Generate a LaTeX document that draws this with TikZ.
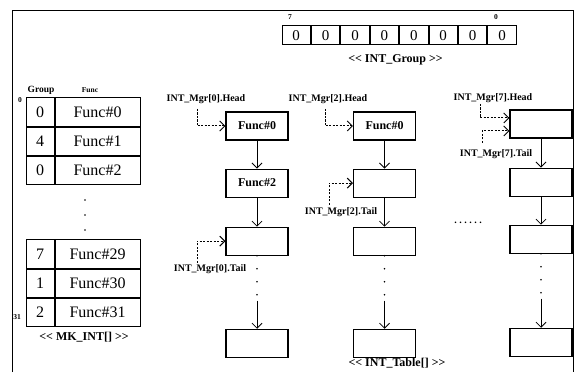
\documentclass[tikz,border=0pt]{standalone}
\usepackage{fontspec}
\setmainfont{Liberation Serif}
\usepackage{tikz}
\usetikzlibrary{arrows.meta, positioning, calc}
\newcommand{\lgl}{<\kern0pt<}
\newcommand{\rgl}{>\kern0pt>}
\tikzset{
  cell/.style={
    rectangle, draw, line width=1pt, inner sep=0pt,
    minimum height=28.3pt, font=\fontsize{16}{18}\selectfont,
  },
  gcell/.style={cell, minimum width=28pt},
  fcell/.style={cell, minimum width=85pt},
  bitcell/.style={
    rectangle, draw, line width=1pt, inner sep=0pt,
    minimum width=28.4pt, minimum height=19pt,
    font=\fontsize{15}{17}\selectfont,
  },
  entry/.style={
    rectangle, draw, line width=1.1pt, inner sep=0pt,
    minimum width=62pt, minimum height=28pt,
    font=\fontsize{12}{14}\selectfont\bfseries,
  },
  tag/.style={inner sep=0pt, font=\fontsize{10}{12}\selectfont\bfseries},
  caption/.style={inner sep=0pt, font=\fontsize{12}{14}\selectfont\bfseries},
  idx/.style={inner sep=0pt, font=\fontsize{7.5}{9}\selectfont\bfseries},
  arrow/.style={-{Straight Barb[length=5pt, width=10pt]}, line width=0.8pt},
  ptr/.style={-{Straight Barb[length=5pt, width=10pt]}, line width=1pt, dash pattern=on 2.2pt off 1.3pt},
  dotline/.style={line width=1.8pt, line cap=round, dash pattern=on 0pt off 13pt},
}
\begin{document}
\begin{tikzpicture}[x=1pt, y=1pt]
  \useasboundingbox (0,0) rectangle (575,372);
  \draw[line width=0.9pt] (12,0) -- (12,362) -- (573,362) -- (573,0);

  % INT_Group register
  \node[bitcell] (g7) at (296.2,336.5) {0};
  \node[bitcell, right=0pt of g7] (g6) {0};
  \node[bitcell, right=0pt of g6] (g5) {0};
  \node[bitcell, right=0pt of g5] (g4) {0};
  \node[bitcell, right=0pt of g4] (g3) {0};
  \node[bitcell, right=0pt of g3] (g2) {0};
  \node[bitcell, right=0pt of g2] (g1) {0};
  \node[bitcell, right=0pt of g1] (g0) {0};
  \node[idx] (msb) at (290,355) {7};
  \node[idx] (lsb) at (496,355) {0};
  \node[caption] (grpcap) at (395.5,312) {\lgl{} INT\_Group \rgl};

  % MK_INT table
  \node[idx, font=\fontsize{9.5}{11}\selectfont\bfseries] (hgrp) at (41,282) {Group};
  \node[idx] (hfn) at (90,282) {Func};
  \node[idx] (i0) at (20,272) {0};
  \node[gcell] (grp0) at (40,259.9) {0};
  \node[fcell, right=0pt of grp0] (fn0) {Func\#0};
  \node[gcell, below=0pt of grp0] (grp1) {4};
  \node[fcell, right=0pt of grp1] (fn1) {Func\#1};
  \node[gcell, below=0pt of grp1] (grp2) {0};
  \node[fcell, right=0pt of grp2] (fn2) {Func\#2};
  \foreach \y in {172,157,142} \fill (85,\y) circle (0.9pt);
  \node[gcell] (grp29) at (40,117.9) {7};
  \node[fcell, right=0pt of grp29] (fn29) {Func\#29};
  \node[gcell, below=0pt of grp29] (grp30) {1};
  \node[fcell, right=0pt of grp30] (fn30) {Func\#30};
  \node[gcell, below=0pt of grp30] (grp31) {2};
  \node[fcell, right=0pt of grp31] (fn31) {Func\#31};
  \node[idx] (i31) at (17,55) {31};
  \node[caption] (mkcap) at (84,35) {\lgl{} MK\_INT[] \rgl};

  % INT_Table chains
  \node[entry] (e00) at (257,246) {Func\#0};
  \node[entry, below=28pt of e00] (e01) {Func\#2};
  \node[entry, below=29pt of e01] (e02) {};
  \node[entry, below=73pt of e02] (e03) {};

  \node[entry] (e20) at (384.5,246) {Func\#0};
  \node[entry, below=28pt of e20] (e21) {};
  \node[entry, below=29pt of e21] (e22) {};
  \node[entry, below=73pt of e22] (e23) {};

  \node[entry] (e70) at (541,248) {};
  \node[entry, below=29pt of e70] (e71) {};
  \node[entry, below=28pt of e71] (e72) {};
  \node[entry, below=74pt of e72] (e73) {};

  \node[tag] (more) at (468,149) {.\kern2.5pt.\kern2.5pt.\kern2.5pt.\kern2.5pt.\kern2.5pt.};
  \node[caption] (tblcap) at (397,9) {\lgl{} INT\_Table[] \rgl};

  \draw[arrow] (e00) -- (e01);
  \draw[arrow] (e01) -- (e02);
  \coordinate (m02) at ([yshift=-45pt]e02.south);
  \draw[dotline] (e02.south) -- (m02);
  \draw[arrow] (m02) -- (e03);

  \draw[arrow] (e20) -- (e21);
  \draw[arrow] (e21) -- (e22);
  \coordinate (m22) at ([yshift=-45pt]e22.south);
  \draw[dotline] (e22.south) -- (m22);
  \draw[arrow] (m22) -- (e23);

  \draw[arrow] (e70) -- (e71);
  \draw[arrow] (e71) -- (e72);
  \coordinate (m72) at ([yshift=-45pt]e72.south);
  \draw[dotline] (e72.south) -- (m72);
  \draw[arrow] (m72) -- (e73);

  % head and tail pointers
  \node[tag] (h0) at (206,273) {INT\_Mgr[0].Head};
  \coordinate (h0s) at (197,263);
  \draw[ptr] (h0s) |- (e00.west);
  \node[tag] (t0) at (210,103) {INT\_Mgr[0].Tail};
  \coordinate (t0s) at (197,109);
  \draw[ptr] (t0s) |- (e02.west);

  \node[tag] (h2) at (328,273) {INT\_Mgr[2].Head};
  \coordinate (h2s) at (325,263);
  \draw[ptr] (h2s) |- (e20.west);
  \node[tag] (t2) at (341,160) {INT\_Mgr[2].Tail};
  \coordinate (t2s) at (329,167);
  \draw[ptr] (t2s) |- (e21.west);

  \node[tag] (h7) at (493,274) {INT\_Mgr[7].Head};
  \coordinate (h7s) at (480,268);
  \draw[ptr] (h7s) |- ([yshift=6pt]e70.west);
  \node[tag] (t7) at (496,218) {INT\_Mgr[7].Tail};
  \coordinate (t7s) at (482,229);
  \draw[ptr] (t7s) |- ([yshift=-7pt]e70.west);
\end{tikzpicture}
\end{document}
